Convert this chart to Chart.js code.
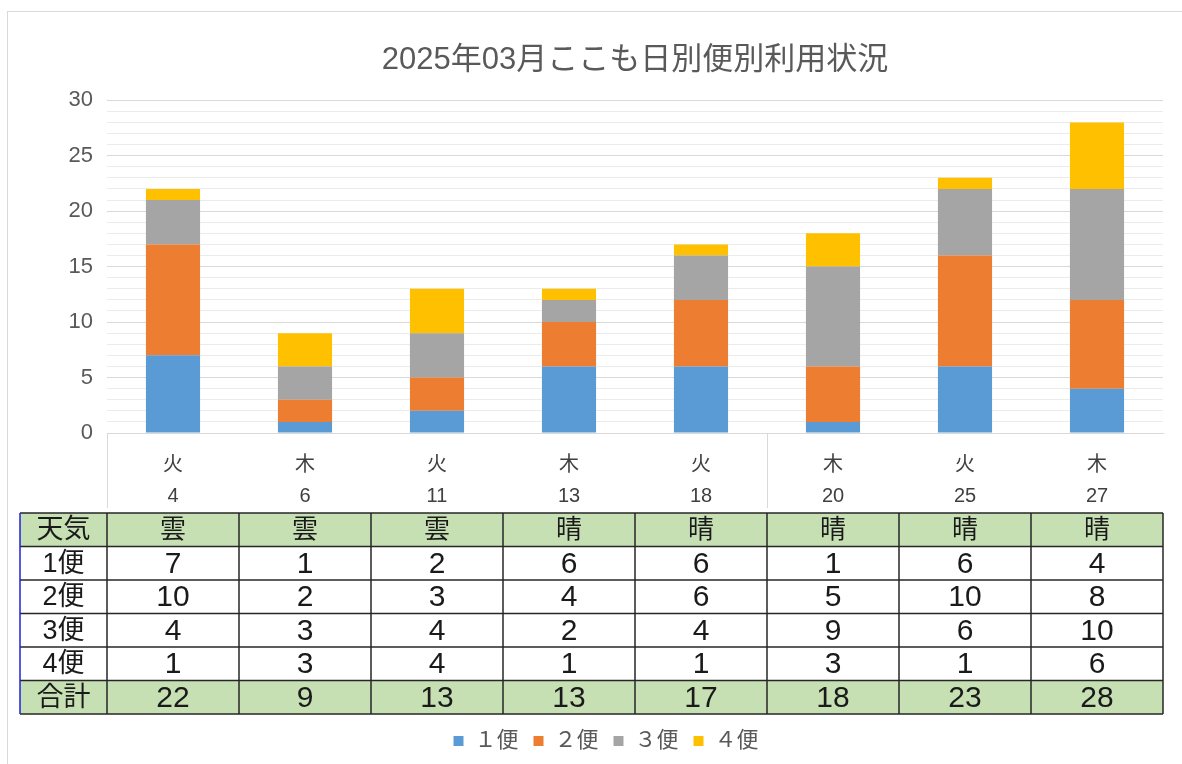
<!DOCTYPE html>
<html lang="ja">
<head>
<meta charset="utf-8">
<title>2025年03月ここも日別便別利用状況</title>
<script src="https://cdn.jsdelivr.net/npm/chart.js@4.4.1/dist/chart.umd.min.js"></script>
<style>
  html, body { margin: 0; padding: 0; background: #fff; }
  #chart-container { position: relative; width: 1182px; height: 764px; overflow: hidden; }
  #frame { position: absolute; left: 7px; top: 11px; right: -2px; bottom: -2px; border-left: 1px solid #d9d9d9; border-top: 1px solid #d9d9d9; }
  canvas { position: absolute; left: 0; top: 0; }
</style>
</head>
<body>
<div id="chart-container">
  <div id="frame"></div>
  <canvas id="myChart" width="1182" height="764"></canvas>
</div>
<script>
const weekdays = ["火", "木", "火", "木", "火", "木", "火", "木"];
const days = ["4", "6", "11", "13", "18", "20", "25", "27"];
const weather = ["雲", "雲", "雲", "晴", "晴", "晴", "晴", "晴"];
const bin1 = [7, 1, 2, 6, 6, 1, 6, 4];
const bin2 = [10, 2, 3, 4, 6, 5, 10, 8];
const bin3 = [4, 3, 4, 2, 4, 9, 6, 10];
const bin4 = [1, 3, 4, 1, 1, 3, 1, 6];
const totals = [22, 9, 13, 13, 17, 18, 23, 28];
const seriesNames = ["１便", "２便", "３便", "４便"];
const rowNames = ["天気", "1便", "2便", "3便", "4便", "合計"];
const yTicks = [0, 5, 10, 15, 20, 25, 30];

const FONT = "'Liberation Sans', 'Noto Sans CJK JP', sans-serif";

// data table under the axis, columns taken from the x scale
const dataTable = {
  id: "dataTable",
  afterDraw(chart) {
    const { ctx, chartArea } = chart;
    const x = chart.scales.x;
    const step = (x.right - x.left) / days.length;
    const top = chartArea.bottom + 80;
    const rowH = 33.5;
    const left = 20;
    const rows = [weather, bin1, bin2, bin3, bin4, totals];
    const bottom = top + rows.length * rowH;

    ctx.save();
    // separators in the category axis
    ctx.strokeStyle = "#d9d9d9";
    ctx.lineWidth = 1;
    [x.left, x.getPixelForValue(4) + step / 2].forEach((px) => {
      ctx.beginPath();
      ctx.moveTo(Math.round(px) + 0.5, chartArea.bottom);
      ctx.lineTo(Math.round(px) + 0.5, top - 5);
      ctx.stroke();
    });

    // green rows
    ctx.fillStyle = "#c6e0b4";
    ctx.fillRect(left, top, x.right - left, rowH);
    ctx.fillRect(left, top + (rows.length - 1) * rowH, x.right - left, rowH);

    // cell lines
    ctx.strokeStyle = "#262626";
    ctx.lineWidth = 1.5;
    for (let r = 0; r <= rows.length; r++) {
      ctx.beginPath();
      ctx.moveTo(left, top + r * rowH);
      ctx.lineTo(x.right, top + r * rowH);
      ctx.stroke();
    }
    for (let c = 0; c <= days.length; c++) {
      const px = x.left + c * step;
      ctx.beginPath();
      ctx.moveTo(px, top);
      ctx.lineTo(px, bottom);
      ctx.stroke();
    }
    ctx.strokeStyle = "#2020e0";
    ctx.beginPath();
    ctx.moveTo(left, top);
    ctx.lineTo(left, bottom);
    ctx.stroke();

    // texts
    ctx.fillStyle = "#1a1a1a";
    ctx.textAlign = "center";
    ctx.textBaseline = "middle";
    rows.forEach((row, r) => {
      const cy = top + r * rowH + rowH / 2 + 1;
      ctx.font = "27px " + FONT;
      ctx.fillText(rowNames[r], (left + x.left) / 2, cy);
      ctx.font = (r === 0 ? "26px " : "30px ") + FONT;
      row.forEach((v, i) => {
        ctx.fillText(String(v), x.getPixelForValue(i), cy);
      });
    });
    ctx.restore();
  },
};

const ctx = document.getElementById("myChart").getContext("2d");
new Chart(ctx, {
  type: "bar",
  data: {
    labels: weekdays.map((w, i) => [w, days[i]]),
    datasets: [
      { label: seriesNames[0], data: bin1, backgroundColor: "#5b9bd5" },
      { label: seriesNames[1], data: bin2, backgroundColor: "#ed7d31" },
      { label: seriesNames[2], data: bin3, backgroundColor: "#a5a5a5" },
      { label: seriesNames[3], data: bin4, backgroundColor: "#ffc000" },
    ],
  },
  options: {
    responsive: false,
    animation: false,
    layout: { padding: { left: 49, right: 19, top: 0, bottom: 2 } },
    datasets: {
      bar: { categoryPercentage: 1, barPercentage: 0.41, borderWidth: 0 },
    },
    plugins: {
      title: {
        display: true,
        text: "2025年03月ここも日別便別利用状況",
        fullSize: false,
        color: "#595959",
        font: { family: FONT, size: 31, weight: "normal" },
        padding: { top: 42, bottom: 21 },
      },
      legend: {
        position: "bottom",
        fullSize: true,
        labels: {
          boxWidth: 10,
          boxHeight: 10,
          padding: 15,
          color: "#595959",
          font: { family: FONT, size: 22 },
        },
      },
      tooltip: { enabled: false },
    },
    scales: {
      x: {
        stacked: true,
        grid: { display: false },
        border: { display: true, color: "#d9d9d9" },
        ticks: {
          padding: 9,
          autoSkip: false,
          maxRotation: 0,
          color: "#404040",
          font: { family: FONT, size: 20, lineHeight: 1.55 },
        },
        afterFit(scale) {
          scale.height = 282;
        },
      },
      y: {
        stacked: true,
        min: 0,
        max: 30,
        grid: {
          drawTicks: false,
          color: (c) => (c.tick && yTicks.includes(c.tick.value) ? "#d9d9d9" : "#ebebeb"),
        },
        border: { display: false },
        ticks: {
          stepSize: 1,
          autoSkip: false,
          padding: 14,
          color: "#595959",
          font: { family: FONT, size: 22 },
          callback: (v) => (yTicks.includes(v) ? v : ""),
        },
        afterFit(scale) {
          scale.width = 58;
        },
      },
    },
  },
  plugins: [dataTable],
});
</script>
</body>
</html>
